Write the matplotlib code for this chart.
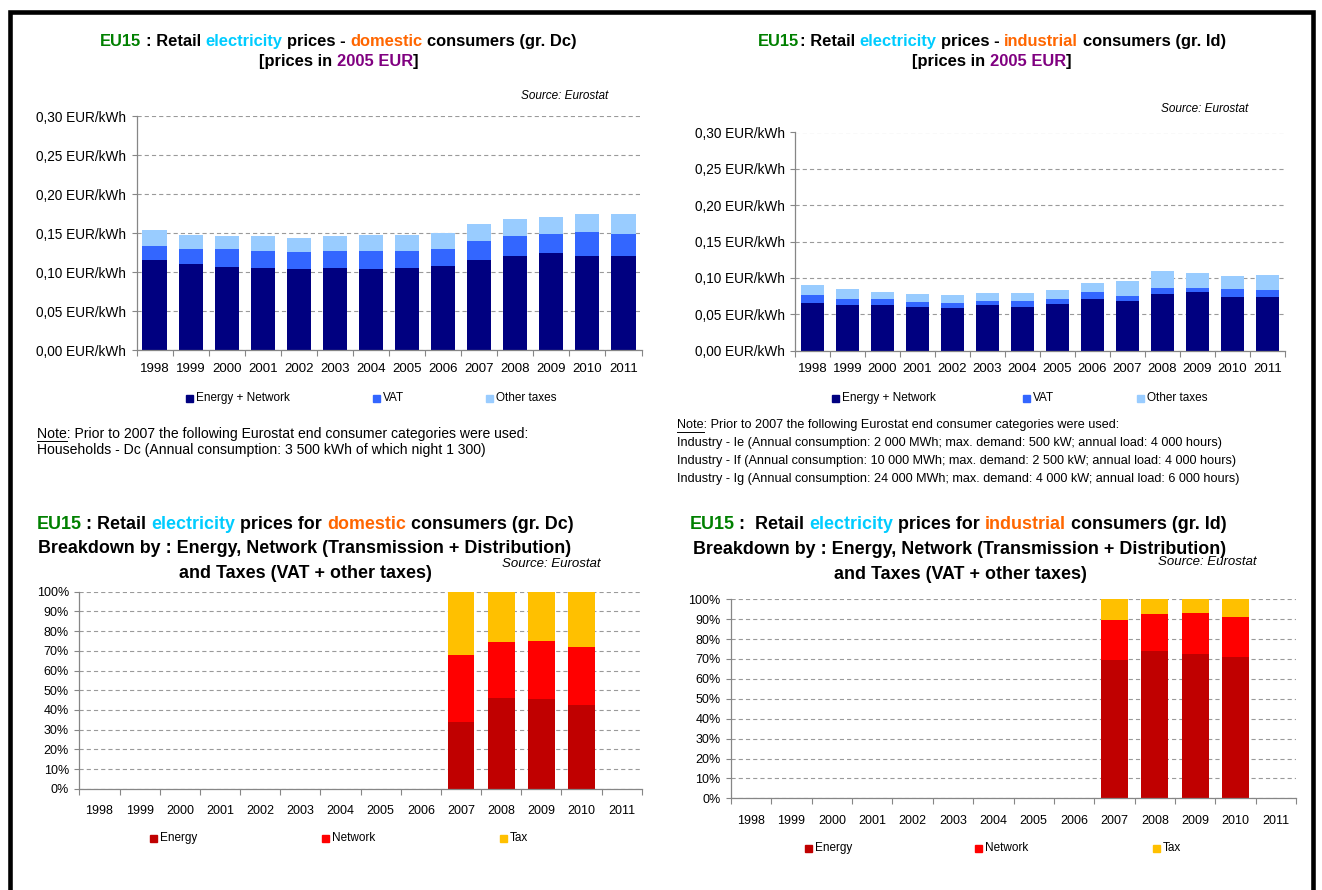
"""EU15 retail electricity prices: four-panel recreation."""
import numpy as np
import matplotlib
matplotlib.use("Agg")
import matplotlib.pyplot as plt
from matplotlib.patches import Rectangle
from matplotlib.lines import Line2D

plt.rcParams["font.family"] = ["Liberation Sans", "DejaVu Sans"]
plt.rcParams["lines.scale_dashes"] = False

YEARS = [str(y) for y in range(1998, 2012)]

# top charts, EUR/kWh (2005 prices)
DOM_ENERGY = [0.115, 0.110, 0.107, 0.105, 0.104, 0.105, 0.104, 0.105, 0.108, 0.115, 0.120, 0.124, 0.120, 0.121]
DOM_VAT = [0.018, 0.019, 0.022, 0.022, 0.022, 0.022, 0.023, 0.022, 0.022, 0.025, 0.026, 0.025, 0.031, 0.028]
DOM_OTHER = [0.021, 0.019, 0.017, 0.019, 0.018, 0.019, 0.020, 0.020, 0.020, 0.022, 0.022, 0.022, 0.023, 0.025]

IND_ENERGY = [0.065, 0.062, 0.062, 0.060, 0.059, 0.062, 0.060, 0.064, 0.071, 0.068, 0.078, 0.080, 0.073, 0.073]
IND_VAT = [0.012, 0.009, 0.009, 0.007, 0.006, 0.006, 0.008, 0.007, 0.009, 0.007, 0.008, 0.006, 0.012, 0.010]
IND_OTHER = [0.013, 0.013, 0.010, 0.011, 0.011, 0.011, 0.011, 0.012, 0.013, 0.021, 0.023, 0.021, 0.017, 0.021]

# bottom charts, shares in % (only 2007-2010 available)
SHARE_YEARS = ["2007", "2008", "2009", "2010"]
DOM_SH_ENERGY = [34.0, 46.2, 45.5, 42.6]
DOM_SH_NETWORK = [34.0, 28.1, 29.5, 29.5]
DOM_SH_TAX = [32.0, 25.7, 25.0, 27.9]
IND_SH_ENERGY = [69.7, 74.2, 72.7, 70.9]
IND_SH_NETWORK = [19.9, 18.3, 20.3, 20.4]
IND_SH_TAX = [10.4, 7.5, 7.0, 8.7]

NAVY, VATBLUE, LIGHTBLUE = "#000080", "#3366FF", "#99CCFF"
DARKRED, RED, GOLD = "#C00000", "#FF0000", "#FFC000"
GREEN, CYAN, ORANGE, PURPLE = "#008000", "#00CCFF", "#FF6600", "#800080"
AXIS_GREY = "#868686"

W, H = 1322, 890
fig = plt.figure(figsize=(W / 100, H / 100), dpi=100)
R = fig.canvas.get_renderer()


def fx(x):
    return x / W


def fy(y):
    return 1 - y / H


def px_axes(x0, y0, x1, y1):
    return fig.add_axes([fx(x0), fy(y1), (x1 - x0) / W, (y1 - y0) / H])


def text_w(s, **kw):
    t = fig.text(0, 0, s + "x", **kw)
    w = t.get_window_extent(R).width
    t.set_text("x")
    w -= t.get_window_extent(R).width
    t.remove()
    return w


def fit_size(s, target, **kw):
    return 10 * target / text_w(s, fontsize=10, **kw)


def rich_line(cx, y, parts, size, **kw):
    # y is the visual middle of the capitals; draw on a shared baseline
    base = y + 0.36 * size * 100 / 72
    full = "".join(s for s, _ in parts)
    total = text_w(full, fontsize=size, **kw)
    x0 = cx - total / 2
    prefix = ""
    for s, c in parts:
        lead = len(s) - len(s.lstrip())
        x = x0 + text_w(prefix + s[:lead], fontsize=size, **kw)
        fig.text(fx(x), fy(base), s.strip(), color=c, fontsize=size,
                 va="baseline", ha="left", **kw)
        prefix += s


def legend_item(xs, y, color, label, size=8.5):
    fig.patches.append(Rectangle((fx(xs), fy(y + 3.5)), 7 / W, 7 / H,
                                 transform=fig.transFigure, color=color))
    fig.text(fx(xs + 10), fy(y), label, fontsize=size, va="center")


def note(x, y, lines, size, gap):
    fig.text(fx(x), fy(y), lines[0], fontsize=size, va="center")
    w = text_w("Note", fontsize=size)
    fig.lines.append(Line2D([fx(x), fx(x + w)], [fy(y + 6.5)] * 2, lw=0.7,
                            color="black", transform=fig.transFigure))
    for i, s in enumerate(lines[1:]):
        fig.text(fx(x), fy(y + (i + 1) * gap), s, fontsize=size, va="center")


def style(ax, yticks, labels, ysize, xsize, xpad):
    n = len(YEARS)
    ax.set_xlim(0, n)
    ax.set_ylim(yticks[0], yticks[-1])
    for s in ("top", "right"):
        ax.spines[s].set_visible(False)
    for s in ("left", "bottom"):
        ax.spines[s].set_color(AXIS_GREY)
        ax.spines[s].set_linewidth(0.9)
    ax.set_yticks(yticks)
    ax.set_yticklabels(labels, fontsize=ysize)
    ax.tick_params(axis="y", length=3.5, color=AXIS_GREY, width=0.8, pad=4)
    ax.set_xticks(np.arange(n) + 0.5)
    ax.set_xticklabels(YEARS, fontsize=xsize)
    ax.tick_params(axis="x", which="major", length=0, pad=xpad)
    ax.set_xticks(np.arange(n + 1), minor=True)
    ax.tick_params(axis="x", which="minor", length=4, color=AXIS_GREY, width=0.8)
    ax.yaxis.grid(True, color="#9a9a9a", linestyle=(0, (3, 2.2)), lw=0.8)
    ax.set_axisbelow(True)


def price_chart(ax, energy, vat, other):
    x = np.arange(len(YEARS)) + 0.5
    e, v, o = map(np.array, (energy, vat, other))
    ax.bar(x, e, 0.67, color=NAVY)
    ax.bar(x, v, 0.67, bottom=e, color=VATBLUE)
    ax.bar(x, o, 0.67, bottom=e + v, color=LIGHTBLUE)
    ticks = np.round(np.arange(0, 0.301, 0.05), 2)
    style(ax, ticks, [f"{t:.2f}".replace(".", ",") + " EUR/kWh" for t in ticks], 9.8, 9.5, 9)


def share_chart(ax, energy, network, tax):
    x = np.array([YEARS.index(y) for y in SHARE_YEARS]) + 0.5
    e, n, t = map(np.array, (energy, network, tax))
    ax.bar(x, e, 0.67, color=DARKRED)
    ax.bar(x, n, 0.67, bottom=e, color=RED)
    ax.bar(x, t, 0.67, bottom=e + n, color=GOLD)
    ticks = np.arange(0, 101, 10)
    style(ax, ticks, [f"{t}%" for t in ticks], 9, 9, 12)


NOTE_HEAD = "Note: Prior to 2007 the following Eurostat end consumer categories were used:"

# --- top left
ax1 = px_axes(136.5, 116, 641.5, 350)
price_chart(ax1, DOM_ENERGY, DOM_VAT, DOM_OTHER)
t1 = [("EU15", GREEN), (" : Retail ", "black"), ("electricity", CYAN), (" prices - ", "black"),
      ("domestic", ORANGE), (" consumers (gr. Dc)", "black")]
sz = fit_size("".join(s for s, _ in t1), 477, fontweight="bold")
rich_line(338.5, 40, t1, sz, fontweight="bold")
rich_line(339, 60, [("[prices in ", "black"), ("2005 EUR", PURPLE), ("]", "black")], sz, fontweight="bold")
fig.text(fx(608), fy(96), "Source: Eurostat", fontsize=8.5, style="italic", ha="right", va="center")
legend_item(186, 398, NAVY, "Energy + Network")
legend_item(373, 398, VATBLUE, "VAT")
legend_item(486, 398, LIGHTBLUE, "Other taxes")
note(37, 434, [NOTE_HEAD,
               "Households - Dc (Annual consumption: 3 500 kWh of which night 1 300)"],
     fit_size(NOTE_HEAD, 490), 15.5)

# --- top right
ax2 = px_axes(795, 132.5, 1285, 350.5)
price_chart(ax2, IND_ENERGY, IND_VAT, IND_OTHER)
t2 = [("EU15", GREEN), (": Retail ", "black"), ("electricity", CYAN), (" prices - ", "black"),
      ("industrial", ORANGE), (" consumers (gr. Id)", "black")]
rich_line(992, 40, t2, sz, fontweight="bold")
rich_line(992, 60, [("[prices in ", "black"), ("2005 EUR", PURPLE), ("]", "black")], sz, fontweight="bold")
fig.text(fx(1248), fy(109), "Source: Eurostat", fontsize=8.5, style="italic", ha="right", va="center")
legend_item(832, 398, NAVY, "Energy + Network")
legend_item(1023, 398, VATBLUE, "VAT")
legend_item(1137, 398, LIGHTBLUE, "Other taxes")
ind_lines = [NOTE_HEAD,
             "Industry - Ie (Annual consumption: 2 000 MWh; max. demand: 500 kW; annual load: 4 000 hours)",
             "Industry - If (Annual consumption: 10 000 MWh; max. demand: 2 500 kW; annual load: 4 000 hours)",
             "Industry - Ig (Annual consumption: 24 000 MWh; max. demand: 4 000 kW; annual load: 6 000 hours)"]
note(677, 425, ind_lines, fit_size(ind_lines[2], 558), 18)

# --- bottom left
ax3 = px_axes(79.4, 591.7, 641.8, 788.7)
share_chart(ax3, DOM_SH_ENERGY, DOM_SH_NETWORK, DOM_SH_TAX)
b1 = [("EU15", GREEN), (" : Retail ", "black"), ("electricity", CYAN), (" prices for ", "black"),
      ("domestic", ORANGE), (" consumers (gr. Dc)", "black")]
bsz = fit_size("".join(s for s, _ in b1), 534, fontweight="bold")
rich_line(305, 523, b1, bsz, fontweight="bold")
rich_line(305, 547, [("Breakdown by : Energy, Network (Transmission + Distribution)", "black")], bsz, fontweight="bold")
rich_line(305, 572, [("and Taxes (VAT + other taxes)", "black")], bsz, fontweight="bold")
fig.text(fx(601), fy(564), "Source: Eurostat", fontsize=9.5, style="italic", ha="right", va="center")
legend_item(150, 838, DARKRED, "Energy")
legend_item(322, 838, RED, "Network")
legend_item(500, 838, GOLD, "Tax")

# --- bottom right
ax4 = px_axes(731, 599.3, 1296, 798.3)
share_chart(ax4, IND_SH_ENERGY, IND_SH_NETWORK, IND_SH_TAX)
b2 = [("EU15", GREEN), (" :  Retail ", "black"), ("electricity", CYAN), (" prices for ", "black"),
      ("industrial", ORANGE), (" consumers (gr. Id)", "black")]
rich_line(958, 523, b2, bsz, fontweight="bold")
rich_line(960, 548, [("Breakdown by : Energy, Network (Transmission + Distribution)", "black")], bsz, fontweight="bold")
rich_line(960, 573, [("and Taxes (VAT + other taxes)", "black")], bsz, fontweight="bold")
fig.text(fx(1257), fy(562), "Source: Eurostat", fontsize=9.5, style="italic", ha="right", va="center")
legend_item(805, 848, DARKRED, "Energy")
legend_item(975, 848, RED, "Network")
legend_item(1153, 848, GOLD, "Tax")

# outer frame
fig.patches.append(Rectangle((fx(9.5), fy(905)), (1313 - 9.5) / W, (905 - 12) / H, fill=False,
                             lw=3.3, edgecolor="black", transform=fig.transFigure, clip_on=False))

fig.savefig("out.png", dpi=100)
